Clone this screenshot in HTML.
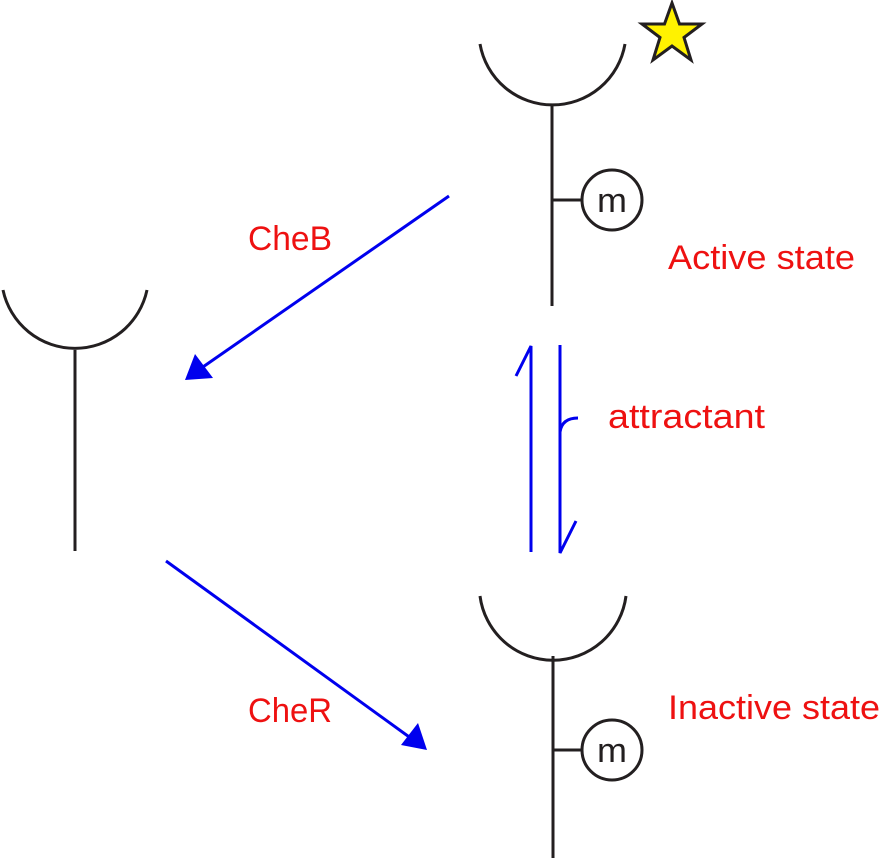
<!DOCTYPE html>
<html><head><meta charset="utf-8"><style>
html,body{margin:0;padding:0;background:#fff;}
svg{display:block;}
text{font-family:"Liberation Sans",sans-serif;}
</style></head><body>
<svg width="882" height="858" viewBox="0 0 882 858" xmlns="http://www.w3.org/2000/svg">
<g fill="none" stroke="#231f20" stroke-width="3">
<path d="M480 44 A73.6 73.6 0 0 0 625 44"/>
<line x1="552" y1="105" x2="552" y2="306"/>
<line x1="552" y1="200" x2="582" y2="200"/>
<circle cx="612" cy="200" r="30"/>
<path d="M3 290 A73.6 73.6 0 0 0 147 290"/>
<line x1="75" y1="350" x2="75" y2="551"/>
<path d="M480 596 A73.6 73.6 0 0 0 626 596"/>
<line x1="553" y1="656" x2="553" y2="858"/>
<line x1="553" y1="750" x2="582" y2="750"/>
<circle cx="612" cy="750" r="30"/>
</g>
<text x="597" y="212" font-size="34" textLength="30" lengthAdjust="spacingAndGlyphs" fill="#231f20">m</text>
<text x="597" y="762" font-size="34" textLength="30" lengthAdjust="spacingAndGlyphs" fill="#231f20">m</text>
<polygon points="672,3 679.5,24 702,24 684,37.5 691,60 672,46 653,60 660,37.5 642,24 664.5,24" fill="#fff200" stroke="#231f20" stroke-width="3"/>
<g stroke="#0000ee" stroke-width="3" fill="none">
<line x1="449" y1="196" x2="200" y2="369"/>
<line x1="166" y1="561" x2="412" y2="739"/>
<path d="M516 376 L531 346 L531 552"/>
<path d="M560 345 L560 553 L576 521"/>
<path d="M560 432 Q562 418 578 418"/>
</g>
<polygon points="185,380 195,354 213,378" fill="#0000ee"/>
<polygon points="427,750 401,745 418,723" fill="#0000ee"/>
<g fill="#ee1111" font-size="34" lengthAdjust="spacingAndGlyphs">
<text x="248" y="250" textLength="84" lengthAdjust="spacingAndGlyphs">CheB</text>
<text x="668" y="269" textLength="187" lengthAdjust="spacingAndGlyphs">Active state</text>
<text x="608" y="428" textLength="157" lengthAdjust="spacingAndGlyphs">attractant</text>
<text x="248" y="722" textLength="84" lengthAdjust="spacingAndGlyphs">CheR</text>
<text x="668" y="719" textLength="212" lengthAdjust="spacingAndGlyphs">Inactive state</text>
</g>
</svg>
</body></html>
